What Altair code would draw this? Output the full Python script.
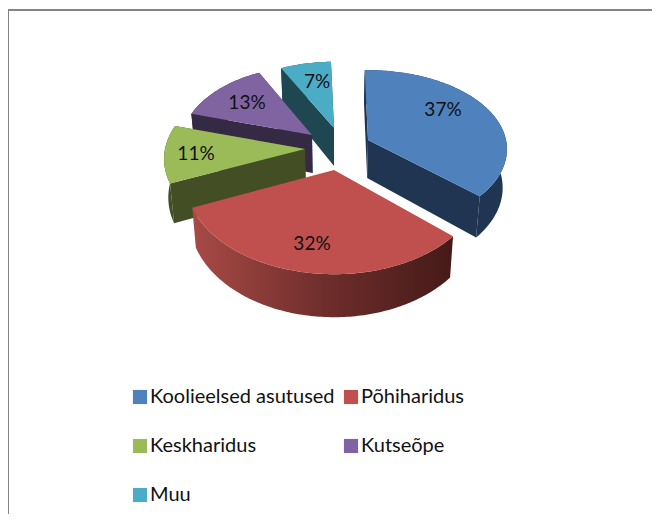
import math
import altair as alt
import pandas as pd

categories = ["Koolieelsed asutused", "Põhiharidus", "Keskharidus", "Kutseõpe", "Muu"]
shares = [37, 32, 11, 13, 7]
top_colors = ["#4F81BD", "#C0504D", "#9BBB59", "#8064A2", "#4BACC6"]
wall_colors = ["#1F3552", "#7A302E", "#434E25", "#342A44", "#1E4752"]
legend_order = [0, 2, 4, 1, 3]

# 3D pie projection: apex, horizontal radius, vertical radius of each exploded slice
apex = [(368, 140), (334, 170), (305, 149), (312, 135), (334, 128)]
radius_x = [138, 147, 140, 130, 130]
radius_y = [78, 92, 84, 77, 74]
label_x = [443, 312, 196, 247, 317]
label_y = [110, 244, 154, 103, 82]
PERSP, DEPTH, CX, TAPER, ROT = 0.117, 38, 335, 0.975, -1.5

def project(i, deg, r=1.0):
    t = math.radians(deg)
    u, v = r * math.sin(t), -r * math.cos(t)
    s = 1 / (1 - PERSP * v)
    return apex[i][0] + radius_x[i] * u * s, apex[i][1] + radius_y[i] * v * s, s

def lower(p):
    x, y, s = p
    return CX + (x - CX) * TAPER, y + DEPTH * s

rows = []
def add(slice_name, part, poly, pts):
    for k, (x, y) in enumerate(pts):
        rows.append({"slice": slice_name, "part": part, "poly": poly, "k": k, "x": x, "y": y})

start = ROT
for i, name in enumerate(categories):
    end = start + shares[i] * 3.6
    n = int(end - start) + 1
    angles = [start + (end - start) * j / n for j in range(n + 1)]
    arc = [project(i, a) for a in angles]
    centre = project(i, 0, 0)
    top = [centre[:2]] + [p[:2] for p in arc]
    add(name, "top", name + "-top", top)
    add(name, "wall", name + "-r1", [centre[:2], arc[0][:2], lower(arc[0]), lower(centre)])
    add(name, "wall", name + "-r2", [centre[:2], arc[-1][:2], lower(arc[-1]), lower(centre)])
    add(name, "outer", name + "-o", [p[:2] for p in arc] + [lower(p) for p in reversed(arc)])
    start = end

df = pd.DataFrame(rows)
xs = alt.X("x:Q", scale=alt.Scale(domain=[8, 652], nice=False, zero=False), axis=None)
ys = alt.Y("y:Q", scale=alt.Scale(domain=[514, 8], nice=False, zero=False), axis=None)
FONT = "Lato"

def polys(name, part):
    return alt.Chart(df).transform_filter(
        alt.datum.slice == name
    ).transform_filter(alt.datum.part == part)

layers = []
# frame
frame_h = pd.DataFrame({"x": [8], "x2": [652], "y": [10]})
frame_v = pd.DataFrame({"x": [8], "y": [10], "y2": [514]})
layers.append(alt.Chart(frame_h).mark_rule(color="#858585", strokeWidth=2).encode(x=xs, x2="x2:Q", y=ys))
layers.append(alt.Chart(frame_v).mark_rule(color="#858585", strokeWidth=2).encode(x=xs, y=ys, y2="y2:Q"))

legend_domain = [categories[j] for j in legend_order]
legend_range = [top_colors[j] for j in legend_order]

for i in [4, 3, 0, 2, 1]:
    name = categories[i]
    wall_fill = alt.Fill("slice:N", scale=alt.Scale(domain=categories, range=wall_colors), legend=None)
    if i != 1:
        layers.append(polys(name, "wall").mark_line(filled=True).encode(
            x=xs, y=ys, order="k:Q", detail="poly:N", fill=wall_fill))
        layers.append(polys(name, "outer").mark_line(filled=True).encode(
            x=xs, y=ys, order="k:Q", detail="poly:N", fill=wall_fill))
    else:
        grad = alt.Gradient(gradient="linear", x1=0, x2=1, y1=0, y2=0, stops=[
            alt.GradientStop(color="#A84A46", offset=0),
            alt.GradientStop(color="#6F2E2C", offset=0.5),
            alt.GradientStop(color="#451A18", offset=1)])
        layers.append(polys(name, "outer").mark_line(filled=True, fill=grad).encode(
            x=xs, y=ys, order="k:Q", detail="poly:N"))
    layers.append(polys(name, "top").mark_line(filled=True).encode(
        x=xs, y=ys, order="k:Q", detail="poly:N",
        color=alt.Color("slice:N", scale=alt.Scale(domain=legend_domain, range=legend_range),
                        legend=alt.Legend(orient="none", legendX=122, legendY=379, columns=2,
                                          title=None, symbolType="square", symbolSize=200,
                                          symbolStrokeWidth=0, labelFont=FONT, labelFontSize=20,
                                          labelColor="#111111", labelOffset=0, rowPadding=29,
                                          columnPadding=6, labelLimit=300))))

labels = pd.DataFrame({"x": label_x, "y": label_y, "t": [f"{s}%" for s in shares]})
layers.append(alt.Chart(labels).mark_text(font=FONT, fontSize=19, color="#111111").encode(
    x=xs, y=ys, text="t:N"))

chart = alt.layer(*layers).resolve_scale(fill="independent").properties(
    width=644, height=506, padding=0, autosize=alt.AutoSizeParams(type="none"),
    background="white"
).configure_view(stroke=None)

chart.save("out.html", embed_options={"renderer": "svg", "actions": False})
